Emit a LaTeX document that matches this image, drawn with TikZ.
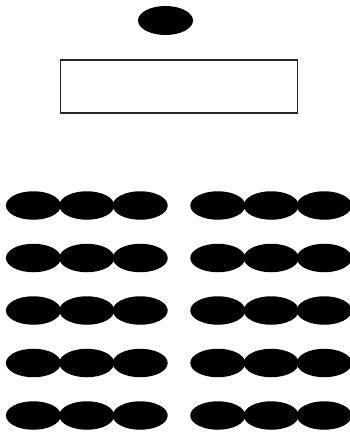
\documentclass[tikz,border=0pt]{standalone}
\usetikzlibrary{shapes.geometric}
\begin{document}
\begin{tikzpicture}[x=1pt,y=-1pt,
  seat/.style={ellipse,fill=black,draw=none,inner sep=0pt,minimum width=55pt,minimum height=28.5pt},
  desk/.style={rectangle,draw=black!85,line width=1.8pt,inner sep=0pt,minimum width=237pt,minimum height=52.5pt}]
\useasboundingbox (0,0) rectangle (350,433);
\node[seat,minimum width=55pt,minimum height=29pt] (teacher) at (165.5,20.5) {};
\node[desk] (board) at (179,86.5) {};
\foreach \r [count=\i] in {205.5,258,310.5,363,415.5}{
  \foreach \x [count=\j] in {33.4,86.8,140.2}{
    \node[seat] (L\i-\j) at (\x,\r) {};
  }
  \foreach \x [count=\j] in {217.8,271.2,324.2}{
    \node[seat] (R\i-\j) at (\x,\r) {};
  }
}
\end{tikzpicture}
\end{document}
